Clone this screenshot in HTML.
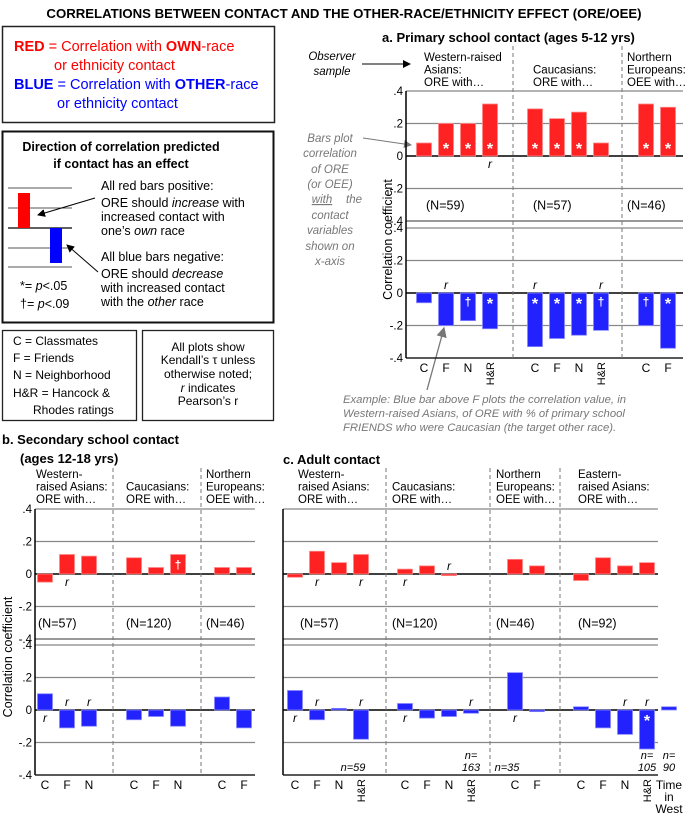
<!DOCTYPE html>
<html><head><meta charset="utf-8"><style>
body{margin:0;background:#fff;}
svg{display:block;font-family:"Liberation Sans",sans-serif;}
</style></head><body>
<svg id="fig" width="685" height="815" viewBox="0 0 685 815" xmlns="http://www.w3.org/2000/svg">
<defs><marker id="ah" markerWidth="8" markerHeight="8" refX="7" refY="4" orient="auto"><path d="M0,0 L8,4 L0,8 z" fill="#000"/></marker>
<marker id="ahg" markerWidth="8" markerHeight="8" refX="7" refY="4" orient="auto"><path d="M0,0 L8,4 L0,8 z" fill="#777"/></marker></defs>
<text x="344" y="18" text-anchor="middle" font-size="13.2" font-weight="bold">CORRELATIONS  BETWEEN CONTACT AND THE OTHER-RACE/ETHNICITY EFFECT (ORE/OEE)</text>

<g>
<rect x="2.5" y="26.5" width="272" height="96" fill="none" stroke="#222" stroke-width="1.5"/>
<text x="14" y="51" font-size="14.5" fill="#f00"><tspan font-weight="bold">RED</tspan> = Correlation with <tspan font-weight="bold">OWN</tspan>-race</text>
<text x="54" y="70" font-size="14.5" fill="#f00">or ethnicity contact</text>
<text x="14" y="89" font-size="14.5" fill="#00f"><tspan font-weight="bold">BLUE</tspan> = Correlation with <tspan font-weight="bold">OTHER</tspan>-race</text>
<text x="57" y="108" font-size="14.5" fill="#00f">or ethnicity contact</text>
</g>
<g>
<rect x="2.5" y="131.5" width="271" height="191" fill="none" stroke="#111" stroke-width="2"/>
<text x="121" y="151" text-anchor="middle" font-size="12.5" font-weight="bold">Direction of correlation predicted</text>
<text x="121" y="168" text-anchor="middle" font-size="12.5" font-weight="bold">if contact has an effect</text>
<g stroke="#555" stroke-width="1"><line x1="8" y1="188" x2="72" y2="188"/><line x1="8" y1="208" x2="72" y2="208"/><line x1="8" y1="248" x2="72" y2="248"/><line x1="8" y1="267" x2="72" y2="267"/></g>
<line x1="8" y1="228" x2="72" y2="228" stroke="#000" stroke-width="1.2"/>
<rect x="18" y="193" width="12" height="35" fill="#f00"/>
<rect x="50" y="228" width="12" height="35" fill="#00f"/>
<line x1="95" y1="198" x2="38" y2="215" stroke="#000" marker-end="url(#ah)"/>
<line x1="98" y1="272" x2="67" y2="245" stroke="#000" marker-end="url(#ah)"/>
<g font-size="12.5"><text x="101" y="190">All red bars positive:</text>
<text x="101" y="207">ORE should <tspan font-style="italic">increase</tspan> with</text>
<text x="101" y="221">increased contact with</text>
<text x="101" y="235">one’s <tspan font-style="italic">own</tspan> race</text>
<text x="101" y="261">All blue bars negative:</text>
<text x="101" y="278">ORE should <tspan font-style="italic">decrease</tspan></text>
<text x="101" y="292">with increased contact</text>
<text x="101" y="306">with the <tspan font-style="italic">other</tspan> race</text>
<text x="20" y="290">*= <tspan font-style="italic">p</tspan>&lt;.05</text>
<text x="20" y="308">†= <tspan font-style="italic">p</tspan>&lt;.09</text></g>
</g>
<g>
<rect x="2.5" y="330.5" width="134" height="90" fill="none" stroke="#222" stroke-width="1.3"/>
<g font-size="12"><text x="13" y="345">C = Classmates</text><text x="13" y="362">F = Friends</text><text x="13" y="379">N = Neighborhood</text><text x="13" y="397">H&amp;R = Hancock &amp;</text><text x="33" y="414">Rhodes ratings</text></g>
</g>
<g>
<rect x="142.5" y="330.5" width="131" height="90" fill="none" stroke="#222" stroke-width="1.3"/>
<g font-size="12" text-anchor="middle"><text x="208" y="351">All plots show</text><text x="208" y="364">Kendall’s τ unless</text><text x="208" y="378">otherwise noted;</text><text x="208" y="392"><tspan font-style="italic">r</tspan> indicates</text><text x="208" y="405">Pearson’s r</text></g>
</g>

<text x="382" y="42" font-size="13" font-weight="bold">a. Primary school contact (ages 5-12 yrs)</text>
<text x="2" y="444" font-size="13" font-weight="bold">b. Secondary school contact</text>
<text x="20" y="463" font-size="13" font-weight="bold">(ages 12-18 yrs)</text>
<text x="283" y="464" font-size="13" font-weight="bold">c. Adult contact</text>

<g font-size="11.5" font-style="italic">
<text x="332" y="60" text-anchor="middle">Observer</text><text x="332" y="75" text-anchor="middle">sample</text>
<line x1="362" y1="64" x2="410" y2="64" stroke="#000" marker-end="url(#ah)"/></g>
<g font-size="11.5" font-style="italic" fill="#777" text-anchor="middle">
<text x="330" y="142">Bars plot</text><text x="330" y="157">correlation</text><text x="330" y="173">of ORE</text><text x="330" y="188">(or OEE)</text><text x="322" y="203" text-decoration="underline">with</text><text x="346" y="203" text-anchor="start">the</text><text x="330" y="219">contact</text><text x="330" y="234">variables</text><text x="330" y="250">shown on</text><text x="330" y="265">x-axis</text>
<line x1="363" y1="138" x2="411" y2="145" stroke="#777" marker-end="url(#ahg)"/></g>
<g font-size="11.3" font-style="italic" fill="#777">
<text x="343" y="403">Example: Blue bar above F plots the correlation value, in</text>
<text x="343" y="417">Western-raised Asians, of ORE with % of primary school</text>
<text x="343" y="431">FRIENDS who were Caucasian (the target other race).</text>
<line x1="427" y1="390" x2="444" y2="328" stroke="#777" stroke-width="1.3" marker-end="url(#ahg)"/></g>

<g id="charts"></g>
</svg>
<script>
// Panel a: primary school
const aCats = [["C","F","N","H&R"],["C","F","N","H&R"],["C","F"]];
const aGroups = [["Western-raised","Asians:","ORE with…"],["","Caucasians:","ORE with…"],["Northern","Europeans:","OEE with…"]];
const aN = ["(N=59)","(N=57)","(N=46)"];
const aRed = [[0.08,0.20,0.20,0.32],[0.29,0.23,0.27,0.08],[0.32,0.30]];
const aBlue = [[-0.06,-0.20,-0.17,-0.22],[-0.33,-0.28,-0.26,-0.23],[-0.20,-0.34]];
const aRedSig = [["","*","*","*"],["*","*","*",""],["*","*"]];
const aBlueSig = [["","","†","*"],["*","*","*","†"],["†","*"]];
const aRedR = [[0,0,0,-1],[0,0,0,0],[0,0]];
const aBlueR = [[0,1,0,0],[1,0,0,1],[0,0]];
// Panel b: secondary school
const bCats = [["C","F","N"],["C","F","N"],["C","F"]];
const bGroups = [["Western-","raised Asians:","ORE with…"],["","Caucasians:","ORE with…"],["Northern","Europeans:","OEE with…"]];
const bN = ["(N=57)","(N=120)","(N=46)"];
const bRed = [[-0.05,0.12,0.11],[0.10,0.04,0.12],[0.04,0.04]];
const bBlue = [[0.10,-0.11,-0.10],[-0.06,-0.04,-0.10],[0.08,-0.11]];
const bRedSig = [["","",""],["","","†"],["",""]];
const bBlueSig = [["","",""],["","",""],["",""]];
const bRedR = [[0,-1,0],[0,0,0],[0,0]];
const bBlueR = [[-1,1,1],[0,0,0],[0,0]];
// Panel c: adult
const cCats = [["C","F","N","H&R"],["C","F","N","H&R"],["C","F"],["C","F","N","H&R","Time in West"]];
const cGroups = [["Western-","raised Asians:","ORE with…"],["","Caucasians:","ORE with…"],["Northern","Europeans:","OEE with…"],["Eastern-","raised Asians:","ORE with…"]];
const cN = ["(N=57)","(N=120)","(N=46)","(N=92)"];
const cRed = [[-0.02,0.14,0.07,0.12],[0.03,0.05,-0.01],[0.09,0.05],[-0.04,0.10,0.05,0.07]];
const cBlue = [[0.12,-0.06,0.01,-0.18],[0.04,-0.05,-0.04,-0.02],[0.23,-0.01],[0.02,-0.11,-0.15,-0.24,0.02]];
const cRedSig = [["","","",""],["","",""],["",""],["","","",""]];
const cBlueSig = [["","","",""],["","","",""],["",""],["","","","*",""]];
const cRedR = [[0,-1,0,-1],[-1,0,1],[0,0],[0,0,0,0]];
const cBlueR = [[-1,1,0,1],[-1,0,0,1],[-1,0],[0,0,1,1,0]];
const cNotes = [[3,["n=59"]],[7,["n=","163"]],[8,["n=35"]],[13,["n=","105"]],[14,["n=","90"]]];

const NS="http://www.w3.org/2000/svg";
const root=document.getElementById('charts');
function mk(tag,attrs,parent,txt){const e=document.createElementNS(NS,tag);for(const k in attrs)e.setAttribute(k,attrs[k]);if(txt!==undefined)e.textContent=txt;(parent||root).appendChild(e);return e;}

function panel(P){
  const g=mk('g',{});
  
  
  const step=32.5/0.2;
  const yTop=v=>P.z1-v*step, yBot=v=>P.z2-v*step;
  [[P.z1,yTop],[P.z2,yBot]].forEach(([z,ys],pi)=>{
    [0.4,0.2,-0.2].forEach(t=>mk('line',{x1:P.x0,x2:P.x1,y1:ys(t),y2:ys(t),stroke:'#888','stroke-width':1.3},g));
    mk('line',{x1:P.x0,x2:P.x1,y1:ys(-0.4),y2:ys(-0.4),stroke:pi==1?'#222':'#999','stroke-width':pi==1?1.5:2},g);
    mk('line',{x1:P.x0,x2:P.x1,y1:ys(0),y2:ys(0),stroke:'#000','stroke-width':1.5},g);
    if(P.ticks){
      [".4",".2","0","-.2","-.4"].forEach((s,i)=>{const tl=mk('text',{x:P.x0-3,y:ys(0.4-i*0.2)+4,'font-size':11.5,'text-anchor':'end'},g,s);
      
      });
    }
  });
  mk('line',{x1:P.x0,x2:P.x0,y1:yTop(0.4),y2:yBot(-0.4),stroke:'#000','stroke-width':1.5},g);
  P.seps.forEach(sx=>mk('line',{x1:sx,x2:sx,y1:P.sepTop,y2:yBot(-0.4),stroke:'#777','stroke-width':1,'stroke-dasharray':'4,3'},g));
  P.cats.forEach((cs,gi)=>{
    P.groups[gi].forEach((l,li)=>{if(l){const t=mk('text',{x:P.gx[gi],y:P.gy+li*12.5,'font-size':11.5},g,l);}});
    const nt=mk('text',{x:P.gx[gi]-(gi==0?-2:0),y:yTop(-0.33),'font-size':12.5},g,P.N[gi]);
    
    
    cs.forEach((c,ci)=>{
      const cx=P.start[gi]+ci*P.sp, w=15;
      [[P.red,'#f22','#f88',yTop,P.redSig,P.redR],[P.blue,'#22f','#88f',yBot,P.blueSig,P.blueR]].forEach(([vals,fc,sc,ys,sig,rr],si)=>{
        if(vals[gi][ci]===undefined)return;
        const v=vals[gi][ci],y0=ys(0),y1=ys(v);
        const b=mk('rect',{x:cx-w/2,y:Math.min(y0,y1),width:w,height:Math.max(Math.abs(y1-y0),1),fill:fc,stroke:sc,'stroke-width':0.8},g);
        
        
        const s=sig[gi][ci];
        if(s){const ty=v>0?y0-5:y0+13;mk('text',{x:cx,y:ty+(s=='*'?3:0),'font-size':s=='*'?16:12,'text-anchor':'middle',fill:'#fff','font-weight':'bold'},g,s);}
        const r=rr[gi][ci];
        if(r){mk('text',{x:cx,y:r>0?y0-4:y0+12,'font-size':12,'font-style':'italic','text-anchor':'middle'},g,'r');}
      });
      const ly=yBot(-0.4)+14;
      if(c==='H&R'){const t=mk('text',{transform:`translate(${cx+4},${ly-10}) rotate(-90)`,'font-size':11,'text-anchor':'end'},g,c);}
      else if(c==='Time in West'){['Time','in','West'].forEach((p,pi)=>{const t=mk('text',{x:cx,y:ly+pi*12,'font-size':12,'text-anchor':'middle'},g,p);});}
      else{const t=mk('text',{x:cx,y:ly,'font-size':12,'text-anchor':'middle'},g,c);}
    });
  });
  const yl=mk('text',{transform:`translate(${P.ylx},${(yTop(0.2)+yBot(-0.2))/2+15}) rotate(-90)`,'font-size':12.5,'text-anchor':'middle'},g,'Correlation coefficient');
  if(!P.ylab)yl.remove();else{}
  return {g,yBot};
}

panel({name:'panel-a-chart',x0:406,x1:683,z1:156,z2:293,cats:aCats,groups:aGroups,N:aN,red:aRed,blue:aBlue,redSig:aRedSig,blueSig:aBlueSig,redR:aRedR,blueR:aBlueR,
  start:[424,535,646],sp:22,seps:[513,622],sepTop:46,gx:[424,533,627],gy:61,ticks:true,ylab:true,ylx:392});
panel({name:'panel-b-chart',x0:35,x1:255,z1:574,z2:710,cats:bCats,groups:bGroups,N:bN,red:bRed,blue:bBlue,redSig:bRedSig,blueSig:bBlueSig,redR:bRedR,blueR:bBlueR,
  start:[45,134,222],sp:22,seps:[113,201],sepTop:468,gx:[36,126,206],gy:478,ticks:true,ylab:true,ylx:12});
const pc=panel({name:'panel-c-chart',x0:283,x1:658,z1:574,z2:710,cats:cCats,groups:cGroups,N:cN,red:cRed,blue:cBlue,redSig:cRedSig,blueSig:cBlueSig,redR:cRedR,blueR:cBlueR,
  start:[295,405,515,581],sp:22,seps:[386,490,560],sepTop:468,gx:[298,392,496,578],gy:478,ticks:false,ylab:false,ylx:0});
const flat=[];cCats.forEach((cs,gi)=>cs.forEach((c,ci)=>flat.push([295,405,515,581][gi]+ci*22)));
cNotes.forEach(([i,lines])=>{lines.forEach((l,li)=>{const t=mk('text',{x:flat[i]+(lines.length==1?-8:0),y:pc.yBot(-0.4)-4-(lines.length-1-li)*12,'font-size':11,'font-style':'italic','text-anchor':'middle'},pc.g,l);

});});
</script>
</body></html>
